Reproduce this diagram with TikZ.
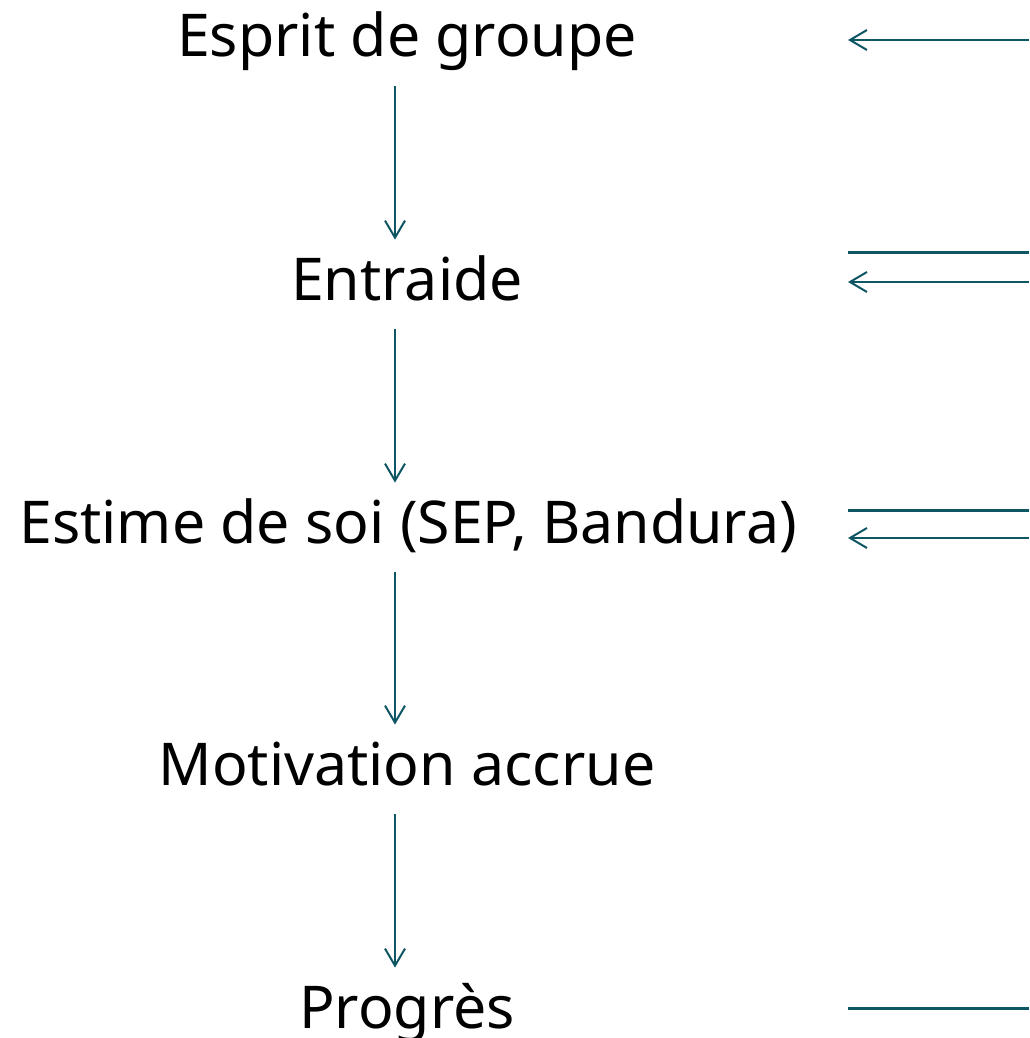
\documentclass[tikz,border=0pt]{standalone}
\usepackage{fontspec}
\setmainfont{Noto Sans}
\usetikzlibrary{arrows.meta}
\definecolor{tealish}{RGB}{14,86,100}
\tikzset{
  stage/.style={font=\fontsize{29.5}{35}\selectfont, anchor=base, inner sep=8pt,
    text height=22pt, text depth=6.5pt},
  flow/.style={draw=tealish, line width=1pt, -{Straight Barb[length=8.5pt,width=10pt]}},
  side/.style={draw=tealish, line width=1.5pt}
}
\begin{document}
\begin{tikzpicture}[x=0.5pt,y=-0.5pt]
    \useasboundingbox (0,0) rectangle (1029,1038);
    \coordinate (ax) at (395,0);
    \node[stage] (es) at (407,57) {Esprit de groupe};
    \node[stage] (en) at (407,300) {Entraide};
    \node[stage] (sp) at (408,543) {Estime de soi (SEP, Bandura)};
    \node[stage] (mo) at (407,785) {Motivation accrue};
    \node[stage] (pr) at (407,1028) {Progrès};
    \draw[flow] (es.south -| ax) -- (en.north -| ax);
    \draw[flow] (en.south -| ax) -- (sp.north -| ax);
    \draw[flow] (sp.south -| ax) -- (mo.north -| ax);
    \draw[flow] (mo.south -| ax) -- (pr.north -| ax);
    % links to the right
    \coordinate (r1) at (1029,40);
    \coordinate (l1) at (848,40);
    \coordinate (r2) at (1029,252);
    \coordinate (l2) at (848,252);
    \coordinate (r3) at (1029,282);
    \coordinate (l3) at (848,282);
    \coordinate (r4) at (1029,510);
    \coordinate (l4) at (848,510);
    \coordinate (r5) at (1029,538);
    \coordinate (l5) at (848,538);
    \coordinate (r6) at (1029,1008);
    \coordinate (l6) at (848,1008);
    \draw[flow] (r1) -- (l1);
    \draw[side] (l2) -- (r2);
    \draw[flow] (r3) -- (l3);
    \draw[side] (l4) -- (r4);
    \draw[flow] (r5) -- (l5);
    \draw[side] (l6) -- (r6);
\end{tikzpicture}
\end{document}
